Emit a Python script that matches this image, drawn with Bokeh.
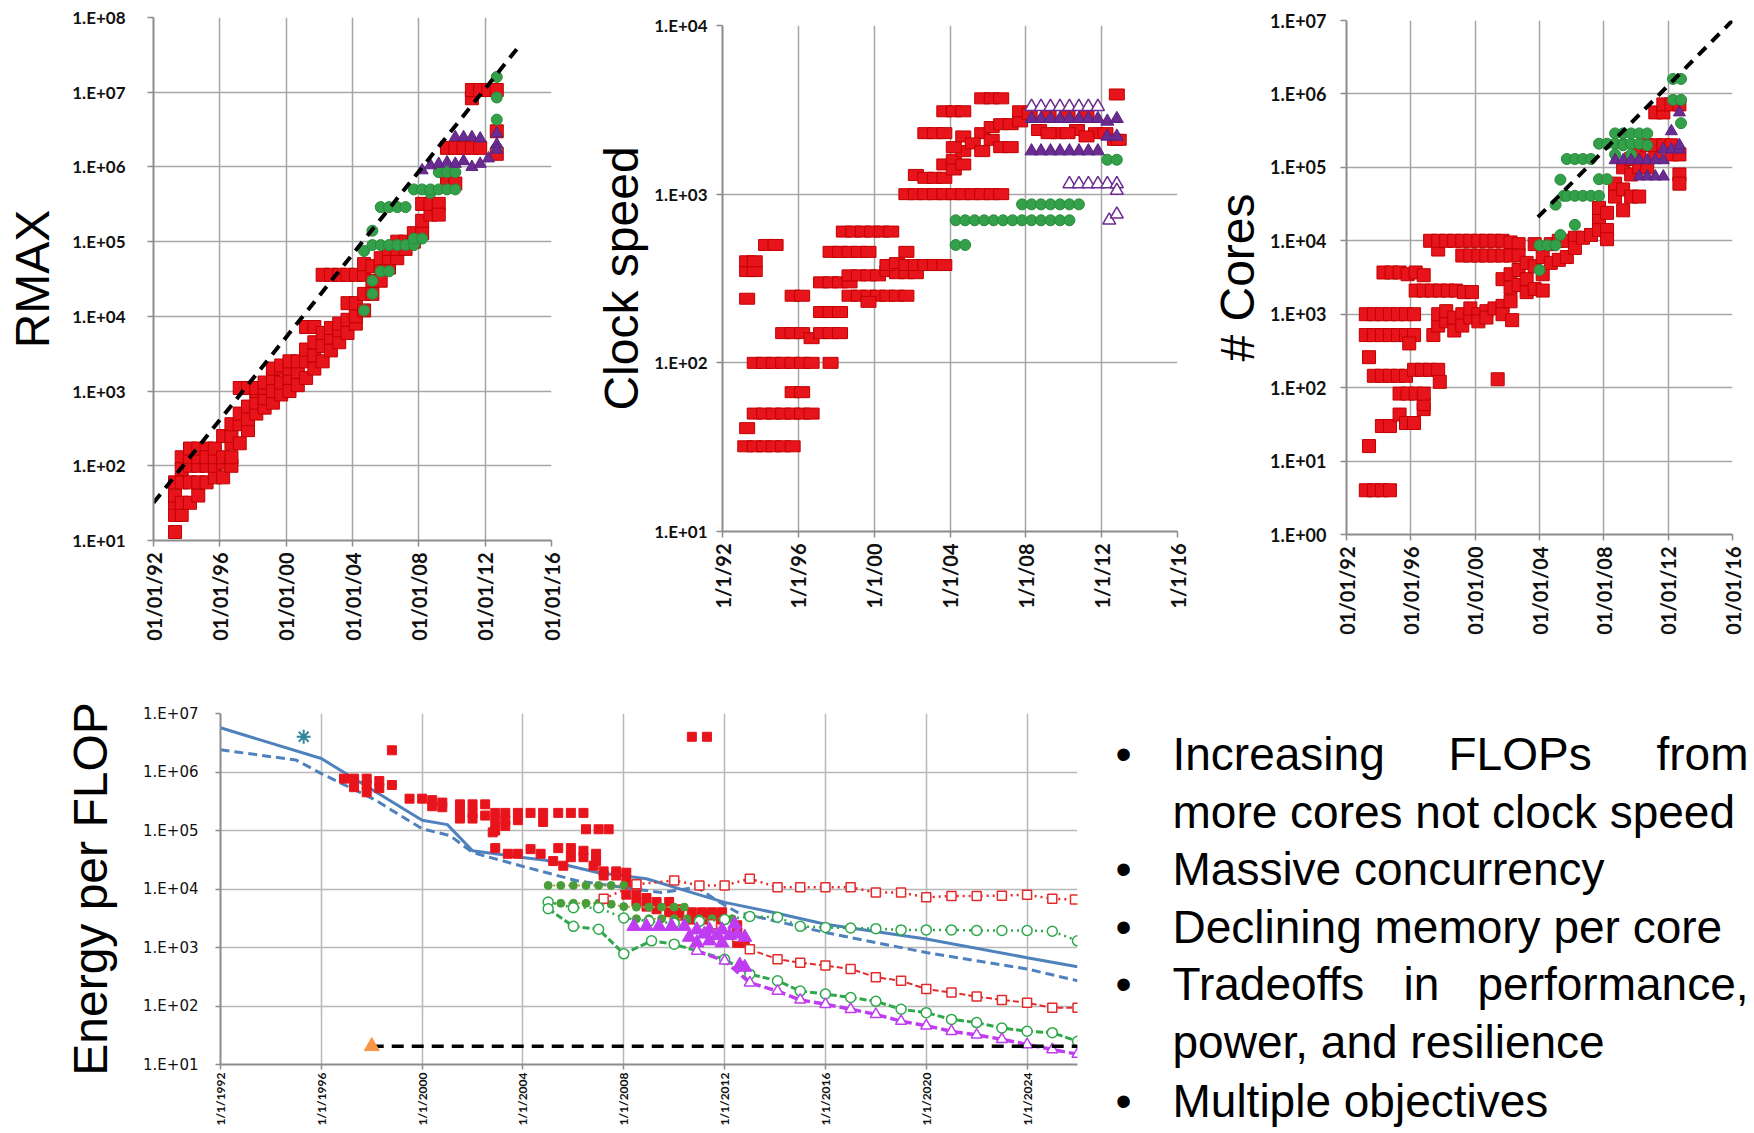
import math
from bokeh.plotting import figure
from bokeh.models import Range1d, FixedTicker, Label
from bokeh.layouts import row, column
from bokeh.embed import file_html
from bokeh.resources import INLINE

# ---------------------------------------------------------------- data
RED, RED_EDGE = "#e8141c", "#c00000"
GREEN, GREEN_EDGE = "#33a04a", "#2a8a3c"
PURPLE, PURPLE_EDGE = "#6a2c91", "#5a2080"

top_x_ticks = [1992, 1996, 2000, 2004, 2008, 2012, 2016]
rmax_x_labels = ["01/01/92", "01/01/96", "01/01/00", "01/01/04", "01/01/08", "01/01/12", "01/01/16"]
clock_x_labels = ["1/1/92", "1/1/96", "1/1/00", "1/1/04", "1/1/08", "1/1/12", "1/1/16"]
cores_x_labels = rmax_x_labels

rmax_y_ticks = [1e1, 1e2, 1e3, 1e4, 1e5, 1e6, 1e7, 1e8]
rmax_y_labels = ["1.E+01", "1.E+02", "1.E+03", "1.E+04", "1.E+05", "1.E+06", "1.E+07", "1.E+08"]
clock_y_ticks = [1e1, 1e2, 1e3, 1e4]
clock_y_labels = ["1.E+01", "1.E+02", "1.E+03", "1.E+04"]
cores_y_ticks = [1e0, 1e1, 1e2, 1e3, 1e4, 1e5, 1e6, 1e7]
cores_y_labels = ["1.E+00", "1.E+01", "1.E+02", "1.E+03", "1.E+04", "1.E+05", "1.E+06", "1.E+07"]

energy_x_ticks = [1992, 1996, 2000, 2004, 2008, 2012, 2016, 2020, 2024]
energy_x_labels = ["1/1/1992", "1/1/1996", "1/1/2000", "1/1/2004", "1/1/2008",
                   "1/1/2012", "1/1/2016", "1/1/2020", "1/1/2024"]
energy_y_ticks = [1e1, 1e2, 1e3, 1e4, 1e5, 1e6, 1e7]
energy_y_labels = ["1.E+01", "1.E+02", "1.E+03", "1.E+04", "1.E+05", "1.E+06", "1.E+07"]

# --- RMAX panel (year, Rmax)
rmax_red = [
    (1993.3, 13), (1993.3, 22), (1993.3, 32), (1993.3, 60), (1993.3, 40),
    (1993.7, 22), (1993.7, 32), (1993.7, 60), (1993.7, 130), (1993.7, 90),
    (1994.2, 32), (1994.2, 60), (1994.2, 100), (1994.2, 130), (1994.2, 170),
    (1994.7, 40), (1994.7, 60), (1994.7, 100), (1994.7, 130), (1994.7, 170),
    (1995.2, 60), (1995.2, 100), (1995.2, 170), (1995.2, 130),
    (1995.7, 70), (1995.7, 100), (1995.7, 130), (1995.7, 170),
    (1996.2, 70), (1996.2, 110), (1996.2, 130), (1996.2, 250),
    (1996.7, 100), (1996.7, 200), (1996.7, 250), (1996.7, 360), (1996.7, 130),
    (1997.2, 200), (1997.2, 360), (1997.2, 500), (1997.2, 1100),
    (1997.7, 300), (1997.7, 420), (1997.7, 620), (1997.7, 1100),
    (1998.2, 500), (1998.2, 700), (1998.2, 1000), (1998.2, 1100),
    (1998.7, 600), (1998.7, 800), (1998.7, 1100), (1998.7, 1300),
    (1999.2, 700), (1999.2, 1000), (1999.2, 1500), (1999.2, 2000),
    (1999.7, 900), (1999.7, 1300), (1999.7, 2000), (1999.7, 2200),
    (2000.2, 1000), (2000.2, 1500), (2000.2, 2000), (2000.2, 2500),
    (2000.7, 1200), (2000.7, 1800), (2000.7, 2500),
    (2001.2, 1500), (2001.2, 2500), (2001.2, 3600), (2001.2, 7200),
    (2001.7, 2000), (2001.7, 3000), (2001.7, 4500), (2001.7, 7200),
    (2002.2, 2500), (2002.2, 4000), (2002.2, 6000), (2002.2, 36000),
    (2002.7, 3500), (2002.7, 5200), (2002.7, 7000), (2002.7, 36000),
    (2003.2, 4500), (2003.2, 6500), (2003.2, 8000), (2003.2, 36000),
    (2003.7, 6000), (2003.7, 9000), (2003.7, 15000), (2003.7, 36000),
    (2004.2, 8000), (2004.2, 10000), (2004.2, 15000), (2004.2, 36000),
    (2004.7, 12000), (2004.7, 20000), (2004.7, 36000), (2004.7, 50000),
    (2005.2, 20000), (2005.2, 30000), (2005.2, 47000),
    (2005.7, 30000), (2005.7, 47000), (2005.7, 60000),
    (2006.2, 45000), (2006.2, 60000), (2006.2, 80000),
    (2006.7, 60000), (2006.7, 80000), (2006.7, 100000),
    (2007.2, 80000), (2007.2, 100000),
    (2007.7, 100000), (2007.7, 130000),
    (2008.2, 130000), (2008.2, 190000), (2008.2, 320000),
    (2008.7, 230000), (2008.7, 320000),
    (2009.2, 320000), (2009.2, 230000),
    (2009.7, 600000), (2009.7, 1800000),
    (2010.2, 600000), (2010.2, 1800000),
    (2010.7, 1800000), (2011.2, 1800000), (2011.2, 8300000), (2011.2, 10700000),
    (2011.7, 1800000), (2011.7, 10700000),
    (2012.2, 10700000),
    (2012.7, 10700000), (2012.7, 3000000), (2012.7, 1500000),
]
rmax_green = [
    (2004.7, 12000), (2004.7, 75000), (2005.2, 20000), (2005.2, 30000), (2005.2, 90000),
    (2005.2, 140000), (2005.7, 40000), (2005.7, 90000), (2005.7, 290000),
    (2006.2, 90000), (2006.2, 290000), (2006.2, 40000), (2006.7, 90000), (2006.7, 290000),
    (2007.2, 90000), (2007.2, 290000), (2007.7, 90000), (2007.7, 110000), (2007.7, 500000),
    (2008.2, 110000), (2008.2, 500000), (2008.7, 450000), (2008.7, 500000),
    (2009.2, 500000), (2009.2, 850000), (2009.7, 500000), (2009.7, 850000),
    (2010.2, 500000), (2010.2, 850000),
    (2012.7, 16000000), (2012.7, 8500000), (2012.7, 4300000), (2012.7, 1800000),
]
rmax_purple = [
    (2008.2, 900000), (2008.7, 1050000), (2009.2, 1100000), (2009.7, 1150000),
    (2010.2, 1100000), (2010.2, 2500000), (2010.7, 1200000), (2010.7, 2500000),
    (2011.2, 1000000), (2011.2, 2500000), (2011.7, 1100000), (2011.7, 2400000),
    (2012.2, 1300000), (2012.7, 2800000), (2012.7, 2000000), (2012.7, 1700000),
]
rmax_trend = [(1992.0, 32), (2014.0, 4.0e7)]

# --- Clock speed panel (year, MHz)
clock_red = [
    (1993.2, 32), (1993.7, 32), (1994.2, 32), (1994.7, 32), (1995.2, 32), (1995.7, 32),
    (1993.3, 41),
    (1993.7, 50), (1994.2, 50), (1994.7, 50), (1995.2, 50), (1995.7, 50), (1996.2, 50), (1996.7, 50),
    (1995.7, 67), (1996.2, 67),
    (1993.7, 100), (1994.2, 100), (1994.7, 100), (1995.2, 100), (1995.7, 100), (1996.2, 100),
    (1996.7, 100), (1997.7, 100),
    (1995.2, 150), (1995.7, 150), (1996.2, 150), (1996.7, 140), (1997.2, 150), (1997.7, 150), (1998.2, 150),
    (1997.2, 200), (1997.7, 200), (1998.2, 200),
    (1993.3, 240), (1995.7, 250), (1996.2, 250),
    (1993.3, 350), (1993.3, 400), (1993.7, 350), (1993.7, 400),
    (1994.3, 500), (1994.8, 500),
    (1997.2, 300), (1997.7, 300), (1998.2, 300), (1998.7, 300),
    (1998.7, 250), (1999.2, 250), (1999.7, 250), (2000.2, 250), (2000.7, 250), (2001.2, 250),
    (2001.7, 250), (1999.7, 230),
    (1998.7, 330), (1999.2, 330), (1999.7, 330), (2000.2, 330), (2000.7, 350), (2001.2, 340),
    (2001.7, 340), (2002.2, 340),
    (2000.7, 380), (2001.2, 390), (2001.7, 380), (2002.2, 380), (2002.7, 380), (2003.2, 380), (2003.7, 380),
    (1997.7, 455), (1998.2, 455), (1998.7, 455), (1999.2, 455), (1999.7, 455), (2001.7, 455),
    (1998.4, 600), (1998.9, 600), (1999.4, 600), (1999.9, 600), (2000.4, 600), (2000.9, 600),
    (2001.7, 1000), (2002.2, 1000), (2002.7, 1000), (2003.2, 1000), (2003.7, 1000), (2004.2, 1000),
    (2004.7, 1000), (2005.2, 1000), (2005.7, 1000), (2006.2, 1000), (2006.7, 1000),
    (2002.2, 1300), (2002.7, 1250), (2003.2, 1250), (2003.7, 1250),
    (2003.7, 1500), (2004.2, 1600), (2004.2, 1400), (2004.7, 1800), (2004.7, 1500), (2004.2, 1900),
    (2002.7, 2300), (2003.2, 2300), (2003.7, 2300), (2004.7, 2200), (2005.7, 2300),
    (2003.7, 3100), (2004.2, 3100), (2004.7, 3100),
    (2005.7, 3700), (2006.2, 3700), (2006.7, 3700),
    (2005.2, 2000), (2005.7, 1800), (2006.2, 2100), (2006.7, 1900), (2007.2, 1900), (2006.2, 2500),
    (2006.7, 2600), (2007.2, 2600), (2007.7, 2700),
    (2007.7, 3100), (2008.2, 3000), (2008.7, 2400), (2009.2, 2900), (2009.7, 2300), (2010.2, 2900),
    (2010.7, 2400), (2011.2, 2900), (2011.7, 2300), (2012.2, 2300), (2009.2, 2300), (2010.2, 2300),
    (2011.2, 2200),
    (2012.8, 3900), (2012.7, 2100), (2012.9, 2100),
]
clock_green = [
    (2004.3, 500), (2004.8, 500),
    (2004.3, 700), (2004.8, 700), (2005.3, 700), (2005.8, 700), (2006.3, 700), (2006.8, 700),
    (2007.3, 700), (2007.8, 700), (2008.3, 700), (2008.8, 700), (2009.3, 700), (2009.8, 700), (2010.3, 700),
    (2007.8, 870), (2008.3, 870), (2008.8, 870), (2009.3, 870), (2009.8, 870), (2010.3, 870), (2010.8, 870),
    (2012.3, 1600), (2012.8, 1600),
]
clock_purple_filled = [
    (2008.3, 1800), (2008.8, 1800), (2009.3, 1800), (2009.8, 1800), (2010.3, 1800), (2010.8, 1800),
    (2011.3, 1800), (2011.8, 1800),
    (2008.3, 2800), (2008.8, 2800), (2009.3, 2800), (2009.8, 2800), (2010.3, 2800), (2010.8, 2800),
    (2011.3, 2800), (2011.8, 2800), (2012.3, 2700), (2012.8, 2800),
    (2012.3, 2200), (2012.8, 2200),
]
clock_purple_open = [
    (2008.3, 3300), (2008.8, 3300), (2009.3, 3300), (2009.8, 3300), (2010.3, 3300), (2010.8, 3300),
    (2011.3, 3300), (2011.8, 3300),
    (2010.3, 1150), (2010.8, 1150), (2011.3, 1150), (2011.8, 1150), (2012.3, 1150), (2012.8, 1150),
    (2012.8, 1050), (2012.4, 700), (2012.8, 760),
]

# --- Cores panel (year, number of cores)
cores_red = [
    (1993.2, 4), (1993.7, 4), (1994.2, 4), (1994.7, 4),
    (1993.4, 16), (1994.2, 30), (1994.7, 30), (1995.3, 43), (1995.7, 33), (1996.2, 33),
    (1996.8, 51), (1996.8, 60),
    (1995.3, 83), (1995.8, 83), (1996.3, 83), (1996.8, 83),
    (1993.7, 145), (1994.2, 145), (1994.7, 145), (1995.2, 145), (1995.7, 145),
    (1996.2, 175), (1996.7, 175), (1997.2, 175), (1997.7, 175), (1997.8, 120), (2001.4, 130),
    (1993.4, 260),
    (1993.2, 520), (1993.7, 520), (1994.2, 520), (1994.7, 520), (1995.2, 520), (1995.7, 520),
    (1996.2, 520), (1997.4, 520), (1995.9, 400),
    (1993.2, 1000), (1993.7, 1000), (1994.2, 1000), (1994.7, 1000), (1995.2, 1000), (1995.7, 1000),
    (1996.2, 1000),
    (1994.3, 3700), (1994.8, 3700), (1995.3, 3700), (1995.8, 3500), (1996.3, 3700), (1996.8, 3400),
    (1996.3, 2100), (1996.8, 2100), (1997.3, 2100), (1997.8, 2100), (1998.3, 2100), (1998.8, 2100),
    (1999.3, 2000), (1999.8, 2000),
    (1997.7, 700), (1997.7, 1000), (1998.2, 800), (1998.2, 1100), (1998.7, 600), (1998.7, 900),
    (1999.2, 1000), (1999.2, 700), (1999.7, 900), (1999.7, 1200), (2000.2, 1000), (2000.2, 800),
    (2000.7, 1100), (2000.7, 900), (2001.2, 1200), (2001.7, 1300), (2001.7, 1000), (2002.2, 1500),
    (1997.2, 10000), (1997.7, 7600), (1997.7, 10000), (1998.2, 10000), (1998.7, 10000), (1999.2, 10000),
    (1999.7, 10000), (2000.2, 10000), (2000.7, 10000), (2001.2, 10000), (2001.7, 10000), (2002.2, 9500),
    (2002.7, 9000),
    (1999.2, 6300), (1999.7, 6300), (2000.2, 6300), (2000.7, 6300), (2001.2, 6300), (2001.7, 6300),
    (2002.2, 6300), (2002.7, 6300),
    (2002.3, 830), (2001.7, 3000), (2002.2, 3500), (2002.2, 2300), (2002.7, 2500), (2002.7, 4000),
    (2003.2, 2000), (2003.2, 3000), (2003.2, 5000), (2003.7, 2200), (2003.7, 4500), (2003.7, 9000),
    (2004.2, 2100), (2004.2, 3500), (2004.2, 6000),
    (2004.7, 5000), (2004.7, 9000), (2005.2, 5500), (2005.2, 10000), (2005.7, 6000), (2005.7, 10000),
    (2006.2, 11000), (2006.2, 8000), (2006.7, 11000), (2007.2, 12000),
    (2007.7, 14000), (2007.7, 21000), (2007.7, 28000), (2008.2, 14000), (2008.2, 10500), (2008.2, 24000),
    (2008.7, 40000), (2008.7, 60000), (2009.2, 26000), (2009.2, 50000), (2009.2, 100000),
    (2009.7, 40000), (2009.7, 80000), (2009.7, 130000), (2010.2, 40000), (2010.2, 100000), (2010.2, 150000),
    (2010.7, 100000), (2010.7, 200000), (2011.2, 150000), (2011.2, 200000), (2011.2, 560000),
    (2011.7, 200000), (2011.7, 560000), (2011.7, 720000), (2012.2, 720000), (2012.2, 200000),
    (2012.2, 150000), (2012.7, 720000), (2012.7, 80000), (2012.7, 60000), (2012.7, 150000),
]
cores_green = [
    (2004.0, 4000), (2004.0, 8700), (2004.5, 8700), (2005.0, 8700), (2005.0, 31000),
    (2005.3, 12000), (2005.3, 68000), (2005.5, 41000), (2005.7, 130000), (2005.7, 41000),
    (2006.2, 130000), (2006.2, 41000), (2006.2, 16500), (2006.7, 130000), (2006.7, 41000),
    (2007.2, 130000), (2007.2, 41000), (2007.7, 69000), (2007.7, 41000), (2007.7, 210000),
    (2008.2, 69000), (2008.2, 210000), (2008.7, 210000), (2008.7, 290000), (2008.7, 150000),
    (2009.2, 210000), (2009.2, 290000), (2009.2, 200000), (2009.7, 210000), (2009.7, 290000),
    (2009.7, 150000), (2010.2, 210000), (2010.2, 290000), (2010.7, 290000), (2010.7, 200000),
    (2012.3, 1600000), (2012.3, 830000), (2012.8, 1600000), (2012.8, 830000), (2012.8, 400000),
]
cores_purple = [
    (2008.7, 125000), (2009.2, 125000), (2009.7, 125000), (2010.2, 125000), (2010.2, 75000),
    (2010.7, 125000), (2010.7, 75000), (2011.2, 125000), (2011.2, 75000), (2011.7, 125000),
    (2011.7, 75000), (2011.7, 175000), (2012.2, 175000), (2012.2, 310000), (2012.7, 175000),
    (2012.7, 200000), (2012.7, 560000),
]
cores_trend = [(2003.9, 21000), (2016.0, 1.0e7)]

# --- Energy per FLOP panel (year, energy)
energy_blue_solid = [
    (1992.0, 5.7e6), (1996.0, 1.7e6), (2000.0, 1.5e5), (2001.0, 1.26e5), (2002.0, 4.5e4),
    (2003.9, 3.5e4), (2004.9, 3.1e4), (2007.0, 1.9e4), (2008.9, 1.5e4), (2011.1, 7.7e3),
    (2012.0, 5.9e3), (2013.9, 4.0e3), (2016.0, 2.5e3), (2020.0, 1.4e3), (2024.0, 670), (2026.0, 470),
]
energy_blue_dashed = [
    (1992.0, 2.4e6), (1995.0, 1.6e6), (1996.0, 9.4e5), (1998.1, 3.4e5), (2000.0, 1.07e5),
    (2001.1, 8.2e4), (2002.0, 4.2e4), (2003.9, 2.5e4), (2006.1, 1.4e4), (2008.4, 1.0e4),
    (2009.5, 8.7e3), (2010.9, 1.07e4), (2011.7, 6.3e3), (2012.5, 4.0e3), (2016.0, 1.8e3),
    (2020.0, 820), (2024.0, 430), (2026.0, 270),
]
energy_red_squares = [
    (1998.8, 2.35e6), (2010.7, 4.0e6), (2011.3, 4.0e6),
    (1996.9, 7.7e5), (1997.3, 7.7e5), (1997.8, 7.7e5), (1997.3, 5.5e5), (1997.8, 6.0e5),
    (1997.8, 4.5e5), (1998.3, 7.0e5), (1998.3, 5.3e5), (1998.8, 6.0e5),
    (1999.5, 3.5e5), (2000.0, 3.5e5), (2000.4, 3.3e5), (2000.4, 2.6e5), (2000.8, 3.0e5), (2000.8, 2.5e5),
    (2001.5, 2.8e5), (2001.5, 2.0e5), (2001.5, 1.6e5), (2002.0, 2.8e5), (2002.0, 2.0e5),
    (2002.0, 1.6e5), (2002.5, 2.8e5),
    (2002.5, 1.8e5), (2002.9, 2.0e5), (2002.9, 1.4e5), (2002.9, 1.0e5), (2003.3, 2.0e5),
    (2003.3, 1.5e5), (2003.3, 1.2e5), (2003.8, 2.0e5), (2003.8, 1.5e5), (2002.9, 5.0e4),
    (2003.4, 4.0e4), (2003.8, 4.0e4), (2002.8, 9.3e4),
    (2004.3, 2.0e5), (2004.8, 2.0e5), (2004.8, 1.4e5),
    (2005.4, 2.0e5), (2005.9, 2.0e5), (2006.4, 2.0e5),
    (2006.5, 1.05e5), (2007.0, 1.05e5), (2007.4, 1.05e5),
    (2004.3, 4.8e4), (2004.7, 4.0e4), (2005.2, 3.0e4), (2005.6, 2.5e4), (2005.4, 5.0e4),
    (2005.9, 5.0e4), (2005.9, 3.5e4), (2006.4, 4.5e4), (2006.4, 3.5e4), (2006.9, 4.0e4), (2006.9, 3.0e4),
    (2006.8, 2.5e4), (2007.2, 2.0e4), (2007.2, 1.7e4), (2007.7, 2.0e4), (2007.7, 1.7e4),
    (2008.1, 1.9e4), (2008.1, 1.3e4), (2008.5, 1.2e4),
    (2008.1, 8.0e3), (2008.5, 8.0e3), (2008.5, 6.0e3), (2008.9, 7.0e3), (2008.9, 5.0e3),
    (2009.3, 6.0e3), (2009.3, 4.5e3), (2009.8, 6.0e3), (2009.8, 4.0e3),
    (2010.2, 4.5e3), (2010.2, 3.5e3), (2010.7, 4.0e3), (2010.7, 3.0e3), (2011.1, 4.0e3),
    (2011.1, 3.0e3), (2011.5, 4.0e3), (2011.5, 3.0e3), (2011.9, 4.0e3), (2011.9, 3.0e3),
    (2012.5, 2.4e3), (2012.5, 1.8e3), (2012.5, 1.2e3), (2012.8, 1.2e3),
]
energy_red_upper = [
    (2007.2, 6.8e3), (2008.5, 1.2e4), (2010.0, 1.4e4), (2011.0, 1.15e4), (2012.0, 1.15e4),
    (2013.0, 1.5e4), (2014.1, 1.07e4), (2015.0, 1.07e4), (2016.0, 1.07e4), (2017.0, 1.07e4),
    (2018.0, 8.7e3), (2019.0, 8.7e3), (2020.0, 7.2e3), (2021.0, 7.6e3), (2022.0, 7.6e3),
    (2023.0, 7.7e3), (2024.0, 8.0e3), (2025.0, 6.8e3), (2025.9, 6.6e3),
]
energy_red_lower = [
    (2011.5, 2.5e3), (2012.5, 1.5e3), (2013.0, 930), (2014.1, 630), (2015.0, 550), (2016.0, 490),
    (2017.0, 430), (2018.0, 310), (2019.0, 270), (2020.0, 195), (2021.0, 170), (2022.0, 145),
    (2023.0, 127), (2024.0, 114), (2025.0, 93), (2026.0, 93),
]
energy_green_upper = [
    (2005.0, 6.0e3), (2006.0, 4.8e3), (2007.0, 4.8e3), (2008.0, 3.2e3), (2009.0, 2.8e3),
    (2010.0, 2.6e3), (2011.0, 2.8e3), (2012.0, 3.0e3), (2013.0, 3.4e3), (2014.1, 3.3e3),
    (2015.0, 2.3e3), (2016.0, 2.2e3), (2017.0, 2.15e3), (2018.0, 2.1e3), (2019.0, 2.0e3),
    (2020.0, 2.0e3), (2021.0, 2.0e3), (2022.0, 1.95e3), (2023.0, 1.95e3), (2024.0, 1.95e3),
    (2025.0, 1.9e3), (2026.0, 1.3e3),
]
energy_green_lower = [
    (2005.0, 4.6e3), (2006.0, 2.3e3), (2007.0, 2.05e3), (2008.0, 780), (2009.1, 1.3e3),
    (2010.0, 1.14e3), (2012.0, 630), (2013.0, 350), (2014.1, 270), (2015.0, 180), (2016.0, 160),
    (2017.0, 140), (2018.0, 120), (2019.0, 88), (2020.0, 77), (2021.0, 59), (2022.0, 52),
    (2023.0, 42), (2024.0, 37), (2025.0, 35), (2026.0, 25),
]
energy_green_dots_hi = [
    (2005.0, 1.15e4), (2005.5, 1.15e4), (2006.0, 1.15e4), (2006.5, 1.15e4), (2007.0, 1.15e4),
    (2007.5, 1.15e4), (2008.0, 1.15e4),
]
energy_green_dots_mid = [
    (2005.0, 5.7e3), (2005.5, 5.7e3), (2006.0, 5.7e3), (2006.5, 5.7e3), (2007.0, 5.7e3),
    (2007.5, 5.5e3), (2008.0, 5.0e3), (2008.5, 4.9e3), (2009.0, 4.9e3), (2009.5, 4.9e3),
    (2010.0, 4.9e3), (2010.4, 4.9e3),
]
energy_green_dots_low = [
    (2008.0, 3.1e3), (2008.5, 3.1e3), (2009.0, 3.1e3), (2009.5, 3.1e3), (2010.0, 3.1e3),
    (2010.5, 3.1e3), (2011.0, 3.1e3), (2011.5, 3.1e3), (2012.0, 3.1e3), (2012.3, 3.1e3),
]
energy_magenta_filled = [
    (2008.4, 2300), (2008.9, 2300), (2009.4, 2300), (2009.9, 2300), (2010.4, 2300), (2010.9, 2000),
    (2011.4, 2000), (2011.9, 2000), (2012.4, 2500), (2010.6, 1500), (2010.9, 1200), (2011.2, 1700),
    (2011.4, 1300), (2011.7, 1600), (2011.9, 1200), (2012.2, 1600), (2012.5, 1700), (2012.8, 1500),
    (2012.8, 460), (2012.6, 500),
]
energy_magenta_open = [
    (2010.9, 870), (2012.0, 590), (2013.0, 250), (2014.1, 180), (2015.0, 127), (2016.0, 107),
    (2017.0, 88), (2018.0, 72), (2019.0, 55), (2020.0, 46), (2021.0, 37), (2022.0, 32),
    (2023.0, 27), (2024.0, 22), (2025.0, 18), (2026.0, 15),
]
energy_target = [(1998.0, 20.5), (2026.0, 20.5)]
energy_orange_point = [(1998.0, 20.5)]
energy_teal_point = [(1995.3, 4.0e6)]

bullet_lines = [
    ["Increasing", "FLOPs", "from"],
    ["more cores not clock speed"],
    ["Massive concurrency"],
    ["Declining memory per core"],
    ["Tradeoffs", "in", "performance,"],
    ["power, and resilience"],
    ["Multiple objectives"],
]
bullet_has_dot = [True, False, True, True, True, False, True]


def xs(pairs):
    return [p[0] for p in pairs]


def ys(pairs):
    return [p[1] for p in pairs]


# ---------------------------------------------------------------- styling helpers
def make_panel(width, height, x_range, y_range, borders, x_ticks, x_labels, y_ticks, y_labels,
               ylabel, label_size, tick_size, xtick_size, ylabel_standoff, ytick_standoff,
               ytick_font="Lato", ytick_bold=True, grid_color="#a6a6a6", xtick_standoff=6, tick_out=6):
    p = figure(width=width, height=height, x_range=Range1d(*x_range), y_range=Range1d(*y_range),
               y_axis_type="log", output_backend="svg", toolbar_location=None,
               min_border_left=borders[0], min_border_right=borders[1],
               min_border_top=borders[2], min_border_bottom=borders[3])
    p.outline_line_color = None
    p.background_fill_color = "white"
    p.border_fill_color = "white"
    p.xaxis.ticker = FixedTicker(ticks=x_ticks)
    p.yaxis.ticker = FixedTicker(ticks=y_ticks)
    p.xaxis.major_label_overrides = dict(zip(x_ticks, x_labels))
    p.yaxis.major_label_overrides = dict(zip(y_ticks, y_labels))
    p.xaxis.major_label_orientation = math.pi / 2
    for ax in (p.xaxis[0], p.yaxis[0]):
        ax.axis_line_color = "#8c8c8c"
        ax.axis_line_width = 2
        ax.major_tick_line_color = "#8c8c8c"
        ax.major_tick_line_width = 1.5
        ax.major_tick_out = tick_out
        ax.major_tick_in = 0
        ax.minor_tick_line_color = None
        ax.major_label_text_color = "#111111"
    p.xaxis.major_label_text_font = "Lato"
    p.xaxis.major_label_text_font_style = "bold"
    p.xaxis.major_label_text_font_size = xtick_size
    p.xaxis.major_label_standoff = xtick_standoff
    p.yaxis.major_label_text_font = ytick_font
    p.yaxis.major_label_text_font_style = "bold" if ytick_bold else "normal"
    p.yaxis.major_label_text_font_size = tick_size
    p.yaxis.major_label_standoff = ytick_standoff
    p.yaxis.axis_label = ylabel
    p.yaxis.axis_label_text_font = "Liberation Sans"
    p.yaxis.axis_label_text_font_style = "normal"
    p.yaxis.axis_label_text_font_size = label_size
    p.yaxis.axis_label_text_color = "black"
    p.yaxis.axis_label_standoff = ylabel_standoff
    p.xgrid.grid_line_color = grid_color
    p.ygrid.grid_line_color = grid_color
    p.xgrid.grid_line_width = 1.5
    p.ygrid.grid_line_width = 1.5
    return p


# ---------------------------------------------------------------- RMAX
pA = make_panel(592, 650, (1992, 2016), (10, 1e8), (153, 41, 17, 110),
                top_x_ticks, rmax_x_labels, rmax_y_ticks, rmax_y_labels,
                "RMAX", "48px", "17px", "20px", 10, 22)
pA.scatter(xs(rmax_red), ys(rmax_red), marker="square", size=13, fill_color=RED, line_color=RED_EDGE)
pA.scatter(xs(rmax_green), ys(rmax_green), marker="circle", size=11, fill_color=GREEN, line_color=GREEN_EDGE)
pA.scatter(xs(rmax_purple), ys(rmax_purple), marker="triangle", size=12, fill_color=PURPLE, line_color=PURPLE_EDGE)
pA.line(xs(rmax_trend), ys(rmax_trend), line_color="black", line_width=4, line_dash="11 8")

# ---------------------------------------------------------------- Clock speed
pB = make_panel(608, 650, (1992, 2016), (10, 1e4), (124, 23, 25, 119),
                top_x_ticks, clock_x_labels, clock_y_ticks, clock_y_labels,
                "Clock speed", "48px", "17px", "20px", 3, 9)
pB.rect(xs(clock_red), ys(clock_red), width=15, height=11, width_units="screen", height_units="screen",
        fill_color=RED, line_color=RED_EDGE)
pB.scatter(xs(clock_green), ys(clock_green), marker="circle", size=11, fill_color=GREEN, line_color=GREEN_EDGE)
pB.scatter(xs(clock_purple_filled), ys(clock_purple_filled), marker="triangle", size=13,
           fill_color=PURPLE, line_color=PURPLE_EDGE)
pB.scatter(xs(clock_purple_open), ys(clock_purple_open), marker="triangle", size=13,
           fill_color="white", line_color=PURPLE, line_width=1.5)

# ---------------------------------------------------------------- Cores
pC = make_panel(554, 650, (1992, 2016), (1, 1e7), (146, 22, 20, 116),
                top_x_ticks, cores_x_labels, cores_y_ticks, cores_y_labels,
                "# Cores", "48px", "18px", "20px", 3, 14)
pC.scatter(xs(cores_red), ys(cores_red), marker="square", size=13, fill_color=RED, line_color=RED_EDGE)
pC.scatter(xs(cores_green), ys(cores_green), marker="circle", size=11, fill_color=GREEN, line_color=GREEN_EDGE)
pC.scatter(xs(cores_purple), ys(cores_purple), marker="triangle", size=12, fill_color=PURPLE, line_color=PURPLE_EDGE)
pC.line(xs(cores_trend), ys(cores_trend), line_color="black", line_width=4, line_dash="11 8")

# ---------------------------------------------------------------- Energy per FLOP
pD = make_panel(1100, 483, (1992, 2026), (10, 1e7), (220, 23, 63, 69),
                energy_x_ticks, energy_x_labels, energy_y_ticks, energy_y_labels,
                "Energy per FLOP", "48px", "15px", "12px", 23, 17,
                ytick_font="DejaVu Sans", ytick_bold=False, grid_color="#b8b8b8", xtick_standoff=3, tick_out=5)
BLUE = "#4f81bd"
MAG = "#c03cf0"
GR2 = "#2ea84a"
RD2 = "#e42a2a"
pD.line(xs(energy_blue_solid), ys(energy_blue_solid), line_color=BLUE, line_width=3)
pD.line(xs(energy_blue_dashed), ys(energy_blue_dashed), line_color=BLUE, line_width=3, line_dash="9 5")
pD.scatter(xs(energy_red_squares), ys(energy_red_squares), marker="square", size=9, fill_color=RED, line_color=RED)
for dots in (energy_green_dots_hi, energy_green_dots_mid, energy_green_dots_low):
    pD.line(xs(dots), ys(dots), line_color="#c8963c", line_width=2, line_dash="2 3")
    pD.scatter(xs(dots), ys(dots), marker="circle", size=8, fill_color="#4a9e3a", line_color="#4a9e3a")
pD.line(xs(energy_red_upper), ys(energy_red_upper), line_color=RD2, line_width=2.5, line_dash="2 4")
pD.scatter(xs(energy_red_upper), ys(energy_red_upper), marker="square", size=9, fill_color="white", line_color=RD2, line_width=1.5)
pD.line(xs(energy_red_lower), ys(energy_red_lower), line_color=RD2, line_width=2, line_dash="6 3")
pD.scatter(xs(energy_red_lower), ys(energy_red_lower), marker="square", size=9, fill_color="white", line_color=RD2, line_width=1.5)
pD.line(xs(energy_green_upper), ys(energy_green_upper), line_color=GR2, line_width=2.5, line_dash="2 4")
pD.scatter(xs(energy_green_upper), ys(energy_green_upper), marker="circle", size=10, fill_color="white", line_color=GR2, line_width=1.5)
pD.line(xs(energy_green_lower), ys(energy_green_lower), line_color=GR2, line_width=3, line_dash="7 3")
pD.scatter(xs(energy_green_lower), ys(energy_green_lower), marker="circle", size=10, fill_color="white", line_color=GR2, line_width=1.5)
pD.scatter(xs(energy_magenta_filled), ys(energy_magenta_filled), marker="triangle", size=14, fill_color=MAG, line_color=MAG)
pD.line(xs(energy_magenta_open), ys(energy_magenta_open), line_color=MAG, line_width=3.5, line_dash="9 4")
pD.scatter(xs(energy_magenta_open), ys(energy_magenta_open), marker="triangle", size=11, fill_color="white", line_color=MAG, line_width=1.5)
pD.line(xs(energy_target), ys(energy_target), line_color="black", line_width=3.5, line_dash="12 8")
pD.scatter(xs(energy_orange_point), ys(energy_orange_point), marker="triangle", size=15, fill_color="#f79646", line_color="#f79646")
pD.scatter(xs(energy_teal_point), ys(energy_teal_point), marker="asterisk", size=14, line_color="#31859c", line_width=2)

# ---------------------------------------------------------------- bullet text panel
E_W, E_H = 654, 483
pE = figure(width=E_W, height=E_H, x_range=Range1d(0, E_W), y_range=Range1d(0, E_H),
            output_backend="svg", toolbar_location=None,
            min_border_left=0, min_border_right=0, min_border_top=0, min_border_bottom=0)
pE.axis.visible = False
pE.grid.visible = False
pE.outline_line_color = None
pE.background_fill_color = "white"
pE.border_fill_color = "white"

FONT_PX = "46px"
line_baselines = [380, 322, 265, 207, 150, 92, 33]      # px from panel bottom
word_x = {0: [72, 348, 556], 4: [72, 303, 377]}         # justified lines
for i, words in enumerate(bullet_lines):
    yb = line_baselines[i]
    if bullet_has_dot[i]:
        pE.add_layout(Label(x=23, y=yb, text="\u2022", text_font="Liberation Sans", text_font_size=FONT_PX,
                            text_align="center", text_baseline="alphabetic", text_color="black"))
    xpos = word_x.get(i, [72])
    for w, xw in zip(words, xpos):
        pE.add_layout(Label(x=xw, y=yb, text=w, text_font="Liberation Sans", text_font_size=FONT_PX,
                            text_align="left", text_baseline="alphabetic", text_color="black"))

layout = column(row(column(pA), column(pB), column(pC)), row(column(pD), column(pE)))
open("out.html", "w").write(file_html(layout, INLINE))
